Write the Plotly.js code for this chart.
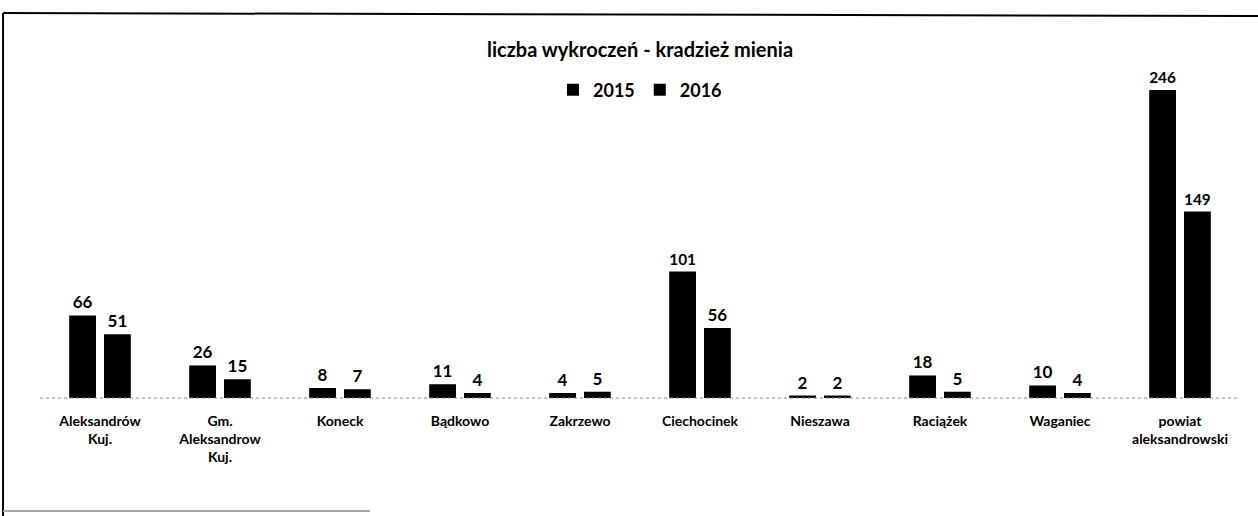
<!DOCTYPE html>
<html>
<head>
<meta charset="utf-8">
<script src="https://cdn.plot.ly/plotly-3.0.1.min.js"></script>
<style>html,body{margin:0;padding:0;background:#fff;}#chart{width:1258px;height:516px;}</style>
</head>
<body>
<div id="chart"></div>
<script>
const categories = ["Aleksandrów<br>Kuj.", "Gm.<br>Aleksandrow<br>Kuj.", "Koneck", "Bądkowo", "Zakrzewo", "Ciechocinek", "Nieszawa", "Raciążek", "Waganiec", "powiat<br>aleksandrowski"];
const values2015 = [66, 26, 8, 11, 4, 101, 2, 18, 10, 246];
const values2016 = [51, 15, 7, 4, 5, 56, 2, 5, 4, 149];
const seriesNames = ["2015", "2016"];

const FONT = "Lato, 'Open Sans', sans-serif";
function mk(name, vals) {
  return {
    type: "bar", name: name, x: categories, y: vals,
    marker: {color: "#000000"},
    text: vals.map(String), textposition: "outside",
    textfont: {family: FONT, size: 17, color: "#000", weight: "bold"},
    cliponaxis: false
  };
}
const data = [mk(seriesNames[0], values2015), mk(seriesNames[1], values2016)];

const layout = {
  width: 1258, height: 516,
  margin: {l: 40, r: 18, t: 60, b: 118},
  paper_bgcolor: "#fff", plot_bgcolor: "#fff",
  barmode: "group", bargap: 0.42, bargroupgap: 0.23,
  title: {text: "liczba wykroczeń - kradzież mienia", x: 0.5, xref: "paper", xanchor: "center", y: 0.903, yanchor: "middle",
          font: {family: FONT, size: 20, color: "#000", weight: "bold"}},
  showlegend: true,
  legend: {orientation: "h", x: 0.5, xanchor: "center", y: 0.911, yanchor: "middle",
           font: {family: FONT, size: 18, color: "#000", weight: "bold"}, bgcolor: "rgba(0,0,0,0)", itemwidth: 30},
  xaxis: {type: "category", showgrid: false, zeroline: false, showline: false, ticks: "",
          ticklabelstandoff: 13,
          tickfont: {family: FONT, size: 14, color: "#000", weight: "bold"}},
  yaxis: {range: [0, 270], visible: false, showgrid: false, zeroline: false},
  shapes: [
    {type: "line", xref: "paper", yref: "paper", x0: 0, x1: 1, y0: 0, y1: 0, line: {color: "#888", width: 1, dash: "dot"}},
    {type: "line", xref: "paper", yref: "paper", x0: -0.0308, x1: -0.0308, y0: 1.139, y1: -0.36, line: {color: "#000", width: 2}},
    {type: "line", xref: "paper", yref: "paper", x0: -0.0308, x1: 1.02, y0: 1.139, y1: 1.13, line: {color: "#000", width: 2}},
    {type: "line", xref: "paper", yref: "paper", x0: -0.0308, x1: 0.275, y0: -0.334, y1: -0.334, line: {color: "#aaa", width: 2}}
  ]
};
Plotly.newPlot("chart", data, layout, {displayModeBar: false, staticPlot: true});
</script>
</body>
</html>
